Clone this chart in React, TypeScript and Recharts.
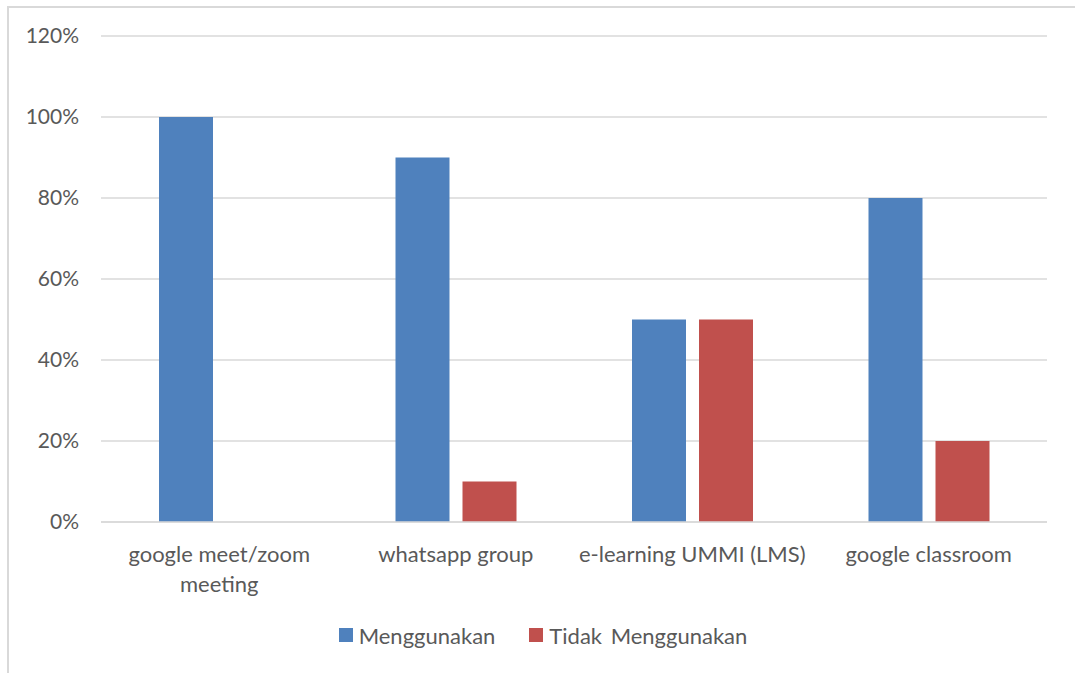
import React from 'react';
import { BarChart, Bar, XAxis, YAxis, CartesianGrid, Legend } from 'recharts';

const categories = ['google meet/zoom meeting', 'whatsapp group', 'e-learning UMMI (LMS)', 'google classroom'];
const menggunakan = [1.0, 0.9, 0.5, 0.8];
const tidakMenggunakan = [0, 0.1, 0.5, 0.2];
const yTicks = [0, 0.2, 0.4, 0.6, 0.8, 1.0, 1.2];

const seriesNames = ['Menggunakan', 'Tidak  Menggunakan'];
const seriesColors = ['#4F81BD', '#C0504D'];

const FONT = 'Lato, "Open Sans", sans-serif';
const TEXT_COLOR = '#595959';
const GRID_COLOR = '#D9D9D9';

const data = categories.map((name, i) => ({
  name,
  menggunakan: menggunakan[i],
  tidak: tidakMenggunakan[i],
}));

let ctx: CanvasRenderingContext2D | null = null;
const measure = (s: string, size: number) => {
  if (!ctx) ctx = document.createElement('canvas').getContext('2d');
  if (!ctx) return s.length * size * 0.5;
  ctx.font = `${size}px Lato`;
  return ctx.measureText(s).width;
};

// wrap long category names like Excel does
const wrap = (label: string, maxWidth: number, size: number) => {
  const words = label.split(' ');
  const lines: string[] = [];
  let cur = '';
  words.forEach((w) => {
    const next = cur ? `${cur} ${w}` : w;
    if (cur && measure(next, size) > maxWidth) {
      lines.push(cur);
      cur = w;
    } else {
      cur = next;
    }
  });
  if (cur) lines.push(cur);
  return lines;
};

const CategoryTick = (props: any) => {
  const { x, y, payload } = props;
  const lines = wrap(payload.value, 232, 22);
  return (
    <text x={x} y={y} textAnchor="middle" style={{ fontFamily: FONT, fontSize: 22, fill: TEXT_COLOR }}>
      {lines.map((line, i) => (
        <tspan key={i} x={x} dy={i === 0 ? 15 : 30}>
          {line}
        </tspan>
      ))}
    </text>
  );
};

const LegendContent = () => (
  <div
    style={{
      display: 'flex',
      justifyContent: 'center',
      alignItems: 'center',
      height: 30,
      fontFamily: FONT,
      fontSize: 22,
      color: TEXT_COLOR,
      paddingLeft: 18,
    }}
  >
    {seriesNames.map((name, i) => (
      <div key={name} style={{ display: 'flex', alignItems: 'center', marginRight: i === 0 ? 34 : 0 }}>
        <span style={{ width: 14, height: 14, background: seriesColors[i], marginRight: 6, display: 'inline-block' }} />
        <span style={{ wordSpacing: 3 }}>{name}</span>
      </div>
    ))}
  </div>
);

export default function App() {
  return (
    <div style={{ position: 'absolute', left: 0, top: 0, width: 1075, height: 673, overflow: 'hidden', background: '#fff' }}>
      <div
        style={{
          position: 'absolute',
          left: 7,
          top: 6,
          width: 1100,
          height: 700,
          border: `2px solid ${GRID_COLOR}`,
        }}
      />
      <div style={{ position: 'absolute', left: 0, top: 0 }}>
        <BarChart
          width={1075}
          height={673}
          data={data}
          margin={{ top: 36, right: 28, left: 21, bottom: 51 }}
          barCategoryGap={58}
          barGap={13}
        >
          <CartesianGrid vertical={false} stroke={GRID_COLOR} strokeWidth={1.5} />
          <XAxis
            dataKey="name"
            height={70}
            axisLine={{ stroke: GRID_COLOR, strokeWidth: 1.5 }}
            tickLine={false}
            tickMargin={19}
            interval={0}
            tick={<CategoryTick />}
          />
          <YAxis
            width={80}
            domain={[0, 1.2]}
            ticks={yTicks}
            axisLine={false}
            tickLine={false}
            tickMargin={16}
            tickFormatter={(v: number) => `${Math.round(v * 100)}%`}
            tick={{ fontFamily: FONT, fontSize: 21, fill: TEXT_COLOR }}
          />
          <Legend verticalAlign="bottom" wrapperStyle={{ bottom: 23 }} content={<LegendContent />} />
          <Bar dataKey="menggunakan" name={seriesNames[0]} fill={seriesColors[0]} isAnimationActive={false} />
          <Bar dataKey="tidak" name={seriesNames[1]} fill={seriesColors[1]} isAnimationActive={false} />
        </BarChart>
      </div>
    </div>
  );
}
